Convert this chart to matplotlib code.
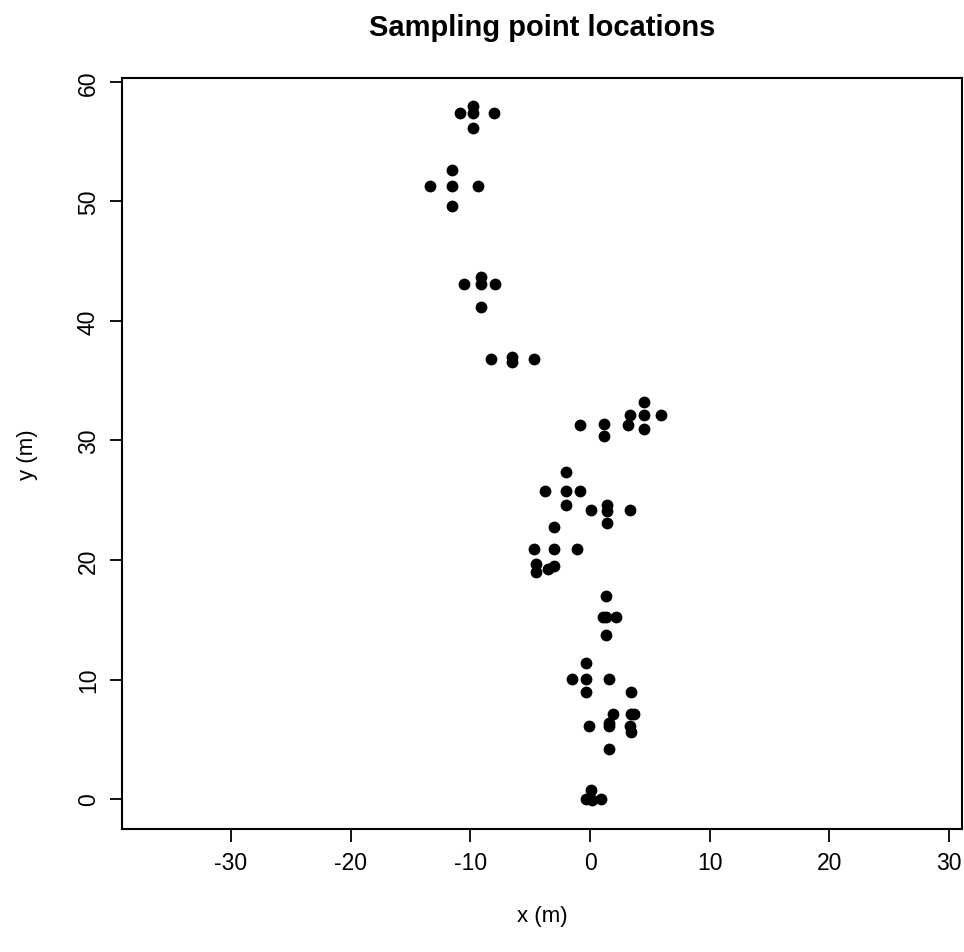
import matplotlib
matplotlib.use("Agg")
import matplotlib.pyplot as plt

plt.rcParams['font.family'] = ['Liberation Sans', 'DejaVu Sans']
plt.rcParams['axes.unicode_minus'] = False

# sampling point coordinates (m)
x_m = [-9.8, -10.9, -9.8, -8.0, -9.8,
       -11.5, -13.4, -11.5, -9.4, -11.5,
       -10.5, -9.1, -9.1, -7.9, -9.1,
       -8.3, -6.5, -6.5, -4.7,
       -0.8, 1.2, 1.2, 4.5, 3.3, 4.5, 5.9, 3.2, 4.5,
       -2.0, -3.8, -2.0, -0.8, -2.0, 0.1, 1.4, 1.4, 3.3, 1.4,
       -3.0, -4.7, -3.0, -1.1, -4.5, -4.5, -3.5, -3.0,
       1.3, 1.05, 1.3, 2.15, 1.3,
       -0.3, -1.5, -0.3, 1.6, -0.3, 3.4,
       1.95, 3.4, 3.7, -0.1, 1.6, 1.6, 3.3, 3.4, 1.6,
       0.1, -0.3, 0.15, 0.9]
y_m = [58.0, 57.4, 57.4, 57.4, 56.1,
       52.6, 51.3, 51.3, 51.3, 49.6,
       43.1, 43.7, 43.1, 43.1, 41.2,
       36.8, 37.0, 36.6, 36.8,
       31.3, 31.4, 30.4, 33.2, 32.1, 32.1, 32.1, 31.3, 31.0,
       27.4, 25.8, 25.8, 25.8, 24.6, 24.2, 24.6, 24.1, 24.2, 23.1,
       22.8, 20.9, 20.9, 20.9, 19.7, 19.0, 19.25, 19.5,
       17.0, 15.2, 15.2, 15.2, 13.7,
       11.4, 10.05, 10.05, 10.05, 9.0, 9.0,
       7.1, 7.15, 7.15, 6.1, 6.1, 6.4, 6.1, 5.6, 4.2,
       0.8, 0.0, -0.1, 0.0]

x_ticks = [-30, -20, -10, 0, 10, 20, 30]
y_ticks = [0, 10, 20, 30, 40, 50, 60]

fig = plt.figure(figsize=(9.64, 9.53), dpi=100)
ax = fig.add_axes([0.1266, 0.1291, 0.8716, 0.7877])

ax.plot(x_m, y_m, 'o', color='black', markersize=8.5, markeredgewidth=0)

ax.set_xlim(-39.1, 31.1)
ax.set_ylim(-2.5, 60.3)
ax.set_xticks(x_ticks)
ax.set_yticks(y_ticks)
ax.tick_params(axis='both', length=9, width=1.3, labelsize=16.5, pad=7)
for lab in ax.get_yticklabels():
    lab.set_rotation(90)
    lab.set_va('center')
for s in ax.spines.values():
    s.set_linewidth(1.5)

ax.set_xlabel('x (m)', fontsize=16, labelpad=22)
ax.set_ylabel('y (m)', fontsize=16, labelpad=28)
ax.set_title('Sampling point locations', fontsize=21, fontweight='bold', pad=31)

fig.savefig('out.png', dpi=100)
